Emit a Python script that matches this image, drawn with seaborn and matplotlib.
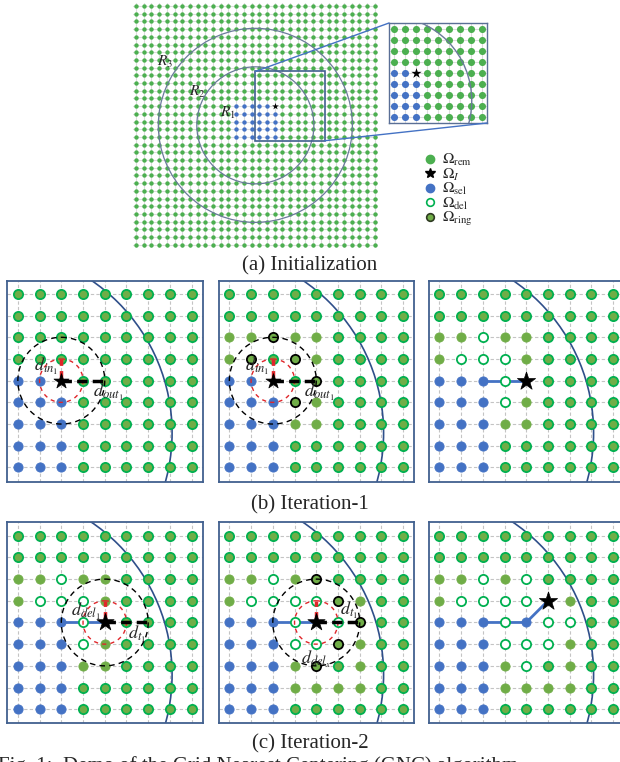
import numpy as np
import pandas as pd
import matplotlib
matplotlib.use('Agg')
import matplotlib.pyplot as plt
import seaborn as sns
from matplotlib.patches import Circle, Rectangle, ConnectionPatch
from matplotlib.lines import Line2D

# ---------------- data ----------------
# top panel: 32 x 32 lattice, selected block and seed point (col, row)
grid_n = 32
sel_rows = [13, 14, 15, 16, 17]
sel_cols = [13, 14, 15, 16, 17, 18]
seed = (18, 13)
ring_center = (15.5, 15.5)
ring_radii = [7.6, 12.6]          # R2, R3
zoom_cols = (15.5, 24.5)
zoom_rows = (8.5, 17.5)

# 9 x 9 detail panels
# g = remaining, o = candidate, b = selected, h = deleted, r = ring, s = seed
b1_map = ["ggggggggg", "ggggggggg", "ggggggggg", "ggggggggg", "bbsgggggg",
          "bbbgggggg", "bbbgggggg", "bbbgggggg", "bbbgggggg"]
b2_map = ["ggggggggg", "ggggggggg", "ooroogggg", "orgrogggg", "bbsgrgggg",
          "bbbrogggg", "bbboogggg", "bbbgggggg", "bbbgggggg"]
b3_map = ["ggggggggg", "ggggggggg", "oohoogggg", "ohhhogggg", "bbbhsgggg",
          "bbbhogggg", "bbboogggg", "bbbgggggg", "bbbgggggg"]
c1_map = ["ggggggggg", "ggggggggg", "oohoogggg", "ohhhogggg", "bbbhsgggg",
          "bbbhogggg", "bbboogggg", "bbbgggggg", "bbbgggggg"]
c2_map = ["ggggggggg", "ggggggggg", "oohorgggg", "ohhhhrogg", "bbbhshrgg",
          "bbbhhrogg", "bbborgogg", "bbboooogg", "bbbgggggg"]
c3_map = ["ggggggggg", "ggggggggg", "oohohgggg", "ohhhhsogg", "bbbhbhhgg",
          "bbbhhhogg", "bbbohgogg", "bbboooogg", "bbbgggggg"]

b3_path = [(2, 4), (4, 4)]
c1_path = [(2, 4), (4, 4)]
c2_path = [(2, 4), (4, 4)]
c3_path = [(2, 4), (4, 4), (5, 3)]

legend_labels = [r'$\Omega_{\mathrm{rem}}$', r'$\Omega_{I}$', r'$\Omega_{\mathrm{sel}}$',
                 r'$\Omega_{\mathrm{del}}$', r'$\Omega_{\mathrm{ring}}$']
captions = ['(a) Initialization', '(b) Iteration-1', '(c) Iteration-2']

# ---------------- style ----------------
sns.set_theme(style='white')
plt.rcParams['font.family'] = ['Liberation Serif', 'DejaVu Serif']
plt.rcParams['mathtext.fontset'] = 'stix'

GREEN_F = '#70ad47'
GREEN_E = '#00b050'
BLUE = '#4472c4'
FRAME = '#41608f'

state_style = {
    'g': dict(color=GREEN_F, edgecolor=GREEN_E, linewidth=1.3),
    'o': dict(color=GREEN_F, edgecolor=GREEN_F, linewidth=0.6),
    'b': dict(color=BLUE, edgecolor=BLUE, linewidth=0.6),
    'h': dict(color='white', edgecolor=GREEN_E, linewidth=1.3),
    'r': dict(color=GREEN_F, edgecolor='black', linewidth=1.3),
}

W, H = 620, 762
fig = plt.figure(figsize=(W / 100, H / 100), dpi=100)


def px_axes(x0, y0, x1, y1):
    return fig.add_axes([x0 / W, 1 - y1 / H, (x1 - x0) / W, (y1 - y0) / H])


def map_to_df(rows):
    recs = [(c, r, ch) for r, line in enumerate(rows) for c, ch in enumerate(line)]
    return pd.DataFrame(recs, columns=['col', 'row', 'state'])


def clean(ax, grid_color, ls):
    ax.set_xlabel('')
    ax.set_ylabel('')
    ax.tick_params(length=0, labelbottom=False, labelleft=False)
    ax.grid(True, color=grid_color, linestyle=ls, linewidth=0.8)
    ax.set_axisbelow(True)


# ---------------- (a) initialization ----------------
main_df = pd.DataFrame([(c, r) for r in range(grid_n) for c in range(grid_n)], columns=['col', 'row'])
main_df['state'] = 'g'
main_df.loc[main_df['row'].isin(sel_rows) & main_df['col'].isin(sel_cols), 'state'] = 'b'
main_df.loc[(main_df['col'] == seed[0]) & (main_df['row'] == seed[1]), 'state'] = 's'


def draw_lattice(ax, size, star_size):
    sns.scatterplot(data=main_df[main_df.state == 'g'], x='col', y='row', s=size,
                    color='#4caf50', linewidth=0, ax=ax, legend=False, zorder=3)
    sns.scatterplot(data=main_df[main_df.state == 'b'], x='col', y='row', s=size,
                    color=BLUE, linewidth=0, ax=ax, legend=False, zorder=3)
    sns.scatterplot(data=main_df[main_df.state == 's'], x='col', y='row', s=star_size,
                    marker='*', color='black', linewidth=0, ax=ax, legend=False, zorder=4)
    ax.set_xticks(range(grid_n))
    ax.set_yticks(range(grid_n))
    clean(ax, '#dcdcdc', '-')


step = 7.7
ax0 = px_axes(136 - 0.4 * step, 6 - 0.4 * step, 136 + 31.4 * step, 6 + 31.4 * step)
draw_lattice(ax0, 10, 26)
ax0.set_xlim(-0.4, grid_n - 0.6)
ax0.set_ylim(grid_n - 0.6, -0.4)
for s in ax0.spines.values():
    s.set_visible(False)
for r in ring_radii:
    ax0.add_patch(Circle(ring_center, r, fill=False, edgecolor='#6a7a9a', linewidth=0.9, zorder=5))
ax0.add_patch(Rectangle((zoom_cols[0], zoom_rows[0]), zoom_cols[1] - zoom_cols[0],
                        zoom_rows[1] - zoom_rows[0], fill=False, edgecolor=FRAME, linewidth=1.2, zorder=6))
ax0.text(3.8, 7.3, '$R_3$', fontsize=11, ha='center', va='center', zorder=7)
ax0.text(7.9, 11.2, '$R_2$', fontsize=11, ha='center', va='center', zorder=7)
ax0.text(11.9, 13.9, '$R_1$', fontsize=11, ha='center', va='center', zorder=7)

# inset
ax_in = px_axes(389, 23, 487, 123)
draw_lattice(ax_in, 26, 60)
ax_in.set_xlim(*zoom_cols)
ax_in.set_ylim(zoom_rows[1], zoom_rows[0])
ax_in.add_patch(Circle(ring_center, ring_radii[0], fill=False, edgecolor='#6a7a9a', linewidth=1.0, zorder=5))
for s in ax_in.spines.values():
    s.set_edgecolor('#5a6f96')
    s.set_linewidth(1.0)
for xa, xb in [((zoom_cols[0], zoom_rows[0]), (0, 1)), ((zoom_cols[1], zoom_rows[1]), (1, 0))]:
    fig.add_artist(ConnectionPatch(xyA=xa, coordsA=ax0.transData, xyB=xb, coordsB=ax_in.transAxes,
                                   color='#4472c4', linewidth=1.0))

# legend
handles = [
    Line2D([], [], ls='', marker='o', ms=6, mfc='#4caf50', mec='#4caf50'),
    Line2D([], [], ls='', marker='*', ms=7, mfc='black', mec='black'),
    Line2D([], [], ls='', marker='o', ms=6, mfc=BLUE, mec=BLUE),
    Line2D([], [], ls='', marker='o', ms=5.5, mfc='white', mec=GREEN_E, mew=1.2),
    Line2D([], [], ls='', marker='o', ms=5.5, mfc=GREEN_F, mec='#2e3a22', mew=1.2),
]
fig.legend(handles, legend_labels, loc='upper left', bbox_to_anchor=(424 / W, 1 - 152 / H),
           frameon=False, fontsize=11, handlelength=0.8, handletextpad=0.4, labelspacing=-0.1,
           borderaxespad=0, borderpad=0)

# ---------------- (b), (c) iterations ----------------
DOT = 44


def draw_panel(ax, rows, path=None, star_size=150):
    df = map_to_df(rows)
    for st, kw in state_style.items():
        sub = df[df.state == st]
        if len(sub):
            sns.scatterplot(data=sub, x='col', y='row', s=DOT, ax=ax, legend=False, zorder=4, **kw)
    if path is not None:
        pdf = pd.DataFrame(path, columns=['col', 'row'])
        sns.lineplot(data=pdf, x='col', y='row', sort=False, estimator=None, color=BLUE,
                     linewidth=2.0, ax=ax, zorder=3)
    sns.scatterplot(data=df[df.state == 's'], x='col', y='row', s=star_size, marker='*',
                    color='black', linewidth=0.5, edgecolor='black', ax=ax, legend=False, zorder=6)
    ax.set_xticks(range(9))
    ax.set_yticks(range(9))
    clean(ax, '#c4c4c4', (0, (3, 2)))
    ax.set_xlim(-0.5, 8.5)
    ax.set_ylim(8.65, -0.62)
    ax.add_patch(Circle((-1.4, 6.4), 8.5, fill=False, edgecolor='#2f4f8a', linewidth=1.2, zorder=2))
    for s in ax.spines.values():
        s.set_edgecolor(FRAME)
        s.set_linewidth(1.3)
    return df


def draw_probe(ax, center, red_end, black_end):
    ax.add_patch(Circle(center, 2, fill=False, edgecolor='black', linestyle=(0, (4, 3)), linewidth=1.0, zorder=5))
    ax.add_patch(Circle(center, 1, fill=False, edgecolor='#e0262a', linestyle=(0, (3, 3)), linewidth=1.0, zorder=5))
    ax.plot([center[0], red_end[0]], [center[1], red_end[1]], color='#e0262a', linewidth=2.5,
            linestyle=(0, (3, 1.5)), zorder=5)
    ax.plot([center[0], black_end[0]], [center[1], black_end[1]], color='black', linewidth=2.5,
            linestyle=(0, (3, 1.5)), zorder=5)


lefts = [7, 218.5, 428.5]
tops = [280.5, 522.3]
pw, ph = 195.5, 201

axes = [[px_axes(l, t, l + pw, t + ph) for l in lefts] for t in tops]

draw_panel(axes[0][0], b1_map, star_size=130)
draw_probe(axes[0][0], (2, 4), (2, 3), (4, 4))
axes[0][0].text(1.3, 3.35, r'$d_{in_1}$', fontsize=13, ha='center', va='center', zorder=7)
axes[0][0].text(4.15, 4.55, r'$d_{out_1}$', fontsize=13, ha='center', va='center', zorder=7)

draw_panel(axes[0][1], b2_map, star_size=130)
draw_probe(axes[0][1], (2, 4), (2, 3), (4, 4))
axes[0][1].text(1.3, 3.35, r'$d_{in_1}$', fontsize=13, ha='center', va='center', zorder=7)
axes[0][1].text(4.15, 4.55, r'$d_{out_1}$', fontsize=13, ha='center', va='center', zorder=7)

draw_panel(axes[0][2], b3_map, b3_path, star_size=190)

draw_panel(axes[1][0], c1_map, c1_path, star_size=170)
draw_probe(axes[1][0], (4, 4), (4, 3), (6, 4))
axes[1][0].text(3.15, 3.5, r'$d_{del_1}$', fontsize=13, ha='center', va='center', zorder=7)
axes[1][0].text(5.5, 4.55, r'$d_{t_1}$', fontsize=13, ha='center', va='center', zorder=7)

draw_panel(axes[1][1], c2_map, c2_path, star_size=170)
draw_probe(axes[1][1], (4, 4), (4, 3), (6, 4))
axes[1][1].text(5.5, 3.45, r'$d_{t_1}$', fontsize=13, ha='center', va='center', zorder=7)
axes[1][1].text(4.0, 5.7, r'$d_{del_x}$', fontsize=13, ha='center', va='center', zorder=7)

draw_panel(axes[1][2], c3_map, c3_path, star_size=190)

# captions
fig.text(310 / W, 1 - 266 / H, captions[0], ha='center', va='center', fontsize=15)
fig.text(310 / W, 1 - 505 / H, captions[1], ha='center', va='center', fontsize=15)
fig.text(310 / W, 1 - 744 / H, captions[2], ha='center', va='center', fontsize=15)
fig.text(-2 / W, 1 - 771 / H, 'Fig. 1:  Demo of the Grid Nearest Centering (GNC) algorithm',
         ha='left', va='baseline', fontsize=15)

fig.savefig('out.png', dpi=100)
